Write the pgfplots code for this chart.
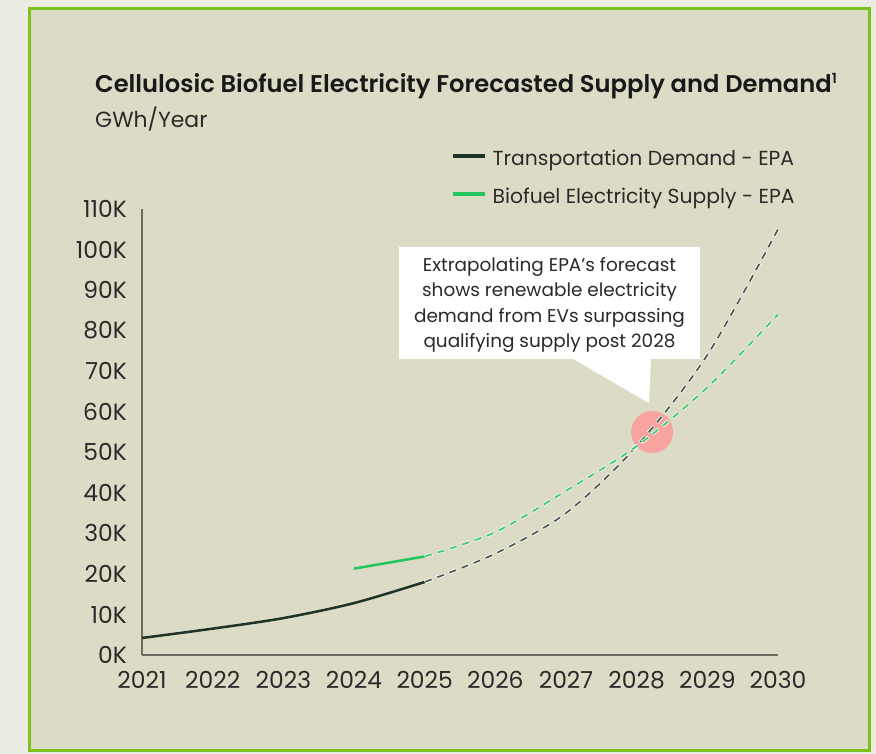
\documentclass[border=0pt]{standalone}
\usepackage{pgfplots}
\pgfplotsset{compat=1.18}
\usepackage{fontspec}
\setmainfont{Poppins}
\newfontfamily\titlefont{Poppins SemiBold}
\definecolor{outerbg}{HTML}{ECECE3}
\definecolor{innerbg}{HTML}{DCDBC5}
\definecolor{frame}{HTML}{7DC11F}
\definecolor{demand}{HTML}{1F3329}
\definecolor{supply}{HTML}{22C55E}
\definecolor{axgrey}{HTML}{6B6B5E}
\definecolor{txt}{HTML}{2A2A2A}
\definecolor{circ}{HTML}{F7A3A0}
\begin{document}
\begin{tikzpicture}[x=1bp,y=1bp]
\fill[outerbg] (0,0) rectangle (876,754);
\fill[innerbg] (28,2) rectangle (871,747);
\draw[frame, line width=3bp] (29.5,3.5) rectangle (869.5,745.5);
\node[anchor=base west, inner sep=0pt, text=black!90, font=\fontsize{24.3}{28}\titlefont] at (95,661) {Cellulosic Biofuel Electricity Forecasted Supply and Demand\textsuperscript{\fontsize{14}{14}\selectfont 1}};
\node[anchor=base west, inner sep=0pt, text=txt, font=\fontsize{22}{26}\selectfont] at (95,626) {GWh/Year};
\begin{axis}[
  at={(142bp,99bp)}, anchor=south west,
  scale only axis, width=636bp, height=446bp,
  xmin=2021, xmax=2030, ymin=0, ymax=110000,
  axis x line*=bottom, axis y line*=left,
  axis line style={-, draw=axgrey, line width=2.5bp},
  major tick length=0pt,
  xtick={2021,2022,2023,2024,2025,2026,2027,2028,2029,2030},
  xticklabels={2021,2022,2023,2024,2025,2026,2027,2028,2029,2030},
  ytick={0,10000,20000,30000,40000,50000,60000,70000,80000,90000,100000,110000},
  yticklabels={0K,10K,20K,30K,40K,50K,60K,70K,80K,90K,100K,110K},
  scaled y ticks=false,
  ticklabel style={font=\fontsize{23.5}{26}\selectfont, text=txt, inner sep=0pt},
  yticklabel style={anchor=east, xshift=-15bp},
  xticklabel style={anchor=north, yshift=-16bp},
  /pgf/number format/assume math mode=true,
  clip=false,
  legend style={draw=none, fill=none, at={(0.481,1.137)}, anchor=north west,
    font=\fontsize{20.4}{24}\selectfont, text=txt, row sep=21bp,
    nodes={inner sep=0pt}},
  legend cell align=left,
  legend image code/.code={\draw[#1, line width=3.5bp] (0bp,0.5ex) -- (32bp,0.5ex);},
  /tikz/every even column/.append style={column sep=0bp},
  /tikz/every odd column/.append style={column sep=6bp},
]
\fill[circ] (axis cs:2028.22,55000) circle[radius=21bp];
\addplot[demand, line width=2.5bp, smooth] coordinates {
(2021,4200) (2022,6500) (2023,9100) (2024,12800) (2025,18000)};
\addlegendentry{Transportation Demand - EPA}
\addplot[supply, line width=2.5bp, smooth] coordinates {
(2024,21300) (2024.5,22800) (2025,24300)};
\addlegendentry{Biofuel Electricity Supply - EPA}
\addplot[forget plot, white!70!innerbg, line width=3.5bp, dash pattern=on 8bp off 5bp, smooth] coordinates {
(2025,18000) (2026,25000) (2027,35000) (2028,51500) (2029,74000) (2030,105000)};
\addplot[forget plot, demand!55!gray, line width=1.6bp, dash pattern=on 7bp off 6bp, dash phase=-0.5bp, smooth] coordinates {
(2025,18000) (2026,25000) (2027,35000) (2028,51500) (2029,74000) (2030,105000)};
\addplot[forget plot, white!70!innerbg, line width=3.5bp, dash pattern=on 8bp off 5bp, smooth] coordinates {
(2025,24300) (2026,30300) (2027,40500) (2028,51500) (2029,66000) (2030,84000)};
\addplot[forget plot, supply!85!white, line width=1.8bp, dash pattern=on 7bp off 6bp, dash phase=-0.5bp, smooth] coordinates {
(2025,24300) (2026,30300) (2027,40500) (2028,51500) (2029,66000) (2030,84000)};
\end{axis}
\fill[white] (399,395) -- (573,395) -- (649,351) -- (651,395) -- (700,395) -- (700,507) -- (399,507) -- cycle;
\node[align=center, text=txt, font=\fontsize{18.5}{25.5}\selectfont, inner sep=0pt] at (549.5,449) {Extrapolating EPA’s forecast\\shows renewable electricity\\demand from EVs surpassing\\qualifying supply post 2028};
\end{tikzpicture}
\end{document}
